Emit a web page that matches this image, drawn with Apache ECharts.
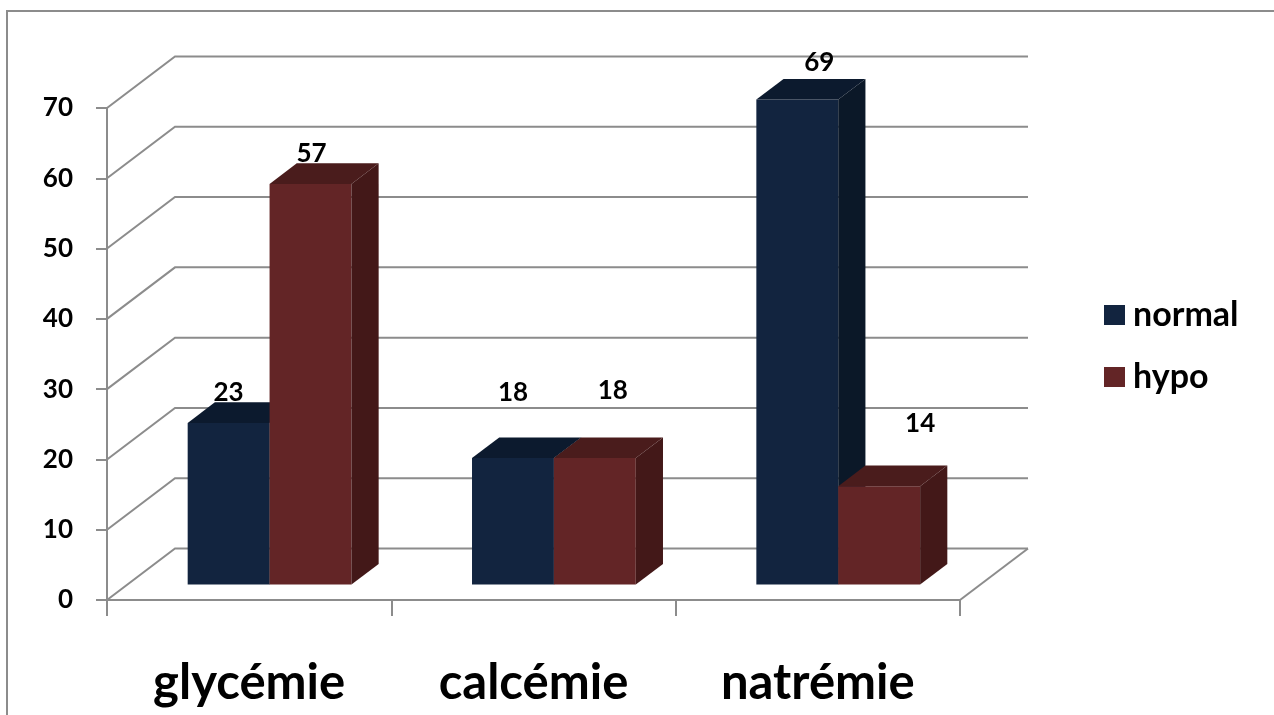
<!DOCTYPE html>
<html>
<head>
<meta charset="utf-8">
<script src="https://cdn.jsdelivr.net/npm/echarts@6/dist/echarts.min.js"></script>
<style>
  html, body { margin: 0; padding: 0; background: #fff; }
  #chart { width: 1274px; height: 715px; }
</style>
</head>
<body>
<div id="chart"></div>
<script>
// données
const categories = ['glycémie', 'calcémie', 'natrémie'];
const normal = [23, 18, 69];
const hypo = [57, 18, 14];
const yTicks = [0, 10, 20, 30, 40, 50, 60, 70];

// décalage des étiquettes (comme Excel les place)
const labelNudgeNormal = [[0, -30], [0, -65], [22, -37]];
const labelNudgeHypo = [[1, -30], [18, -67], [41, -63]];

const DEPTH = [68, -51.5];   // profondeur du plancher en pixels
const BAR_W = 0.288;         // largeur d'une barre (en catégories)
const GRID_COLOR = '#8c8c8c';
const FONT = 'Lato';

function addDepth(p, f) {
    return [p[0] + DEPTH[0] * f, p[1] + DEPTH[1] * f];
}

// murs du fond + lignes de grille en perspective
function renderWalls(params, api) {
    const v = api.value(0);
    const fl = api.coord([0, v]);
    const fr = api.coord([3, v]);
    const bl = addDepth(fl, 1);
    const br = addDepth(fr, 1);
    const children = [{
        type: 'polyline',
        shape: { points: [fl, bl, br] },
        style: { stroke: GRID_COLOR, lineWidth: 2, fill: null }
    }];
    if (v === 0) {
        children.push({
            type: 'line',
            shape: { x1: fr[0], y1: fr[1], x2: br[0], y2: br[1] },
            style: { stroke: GRID_COLOR, lineWidth: 2 }
        });
    }
    return { type: 'group', children: children };
}

function makeBarRenderer(side, colors, nudges) {
    return function (params, api) {
        const i = api.value(0);
        const v = api.value(1);
        const x0 = side === 0 ? i + 0.5 - BAR_W : i + 0.5;
        const x1 = x0 + BAR_W;
        const flb = addDepth(api.coord([x0, 0]), 0.3);
        const frb = addDepth(api.coord([x1, 0]), 0.3);
        const flt = addDepth(api.coord([x0, v]), 0.3);
        const frt = addDepth(api.coord([x1, v]), 0.3);
        const d = 0.4;
        const nd = nudges[params.dataIndex];
        return {
            type: 'group',
            children: [
                { type: 'polygon', shape: { points: [flb, frb, frt, flt] }, style: { fill: colors[0] } },
                { type: 'polygon', shape: { points: [flt, frt, addDepth(frt, d), addDepth(flt, d)] }, style: { fill: colors[1] } },
                { type: 'polygon', shape: { points: [frb, addDepth(frb, d), addDepth(frt, d), frt] }, style: { fill: colors[2] } },
                {
                    type: 'text',
                    x: (flt[0] + frt[0]) / 2 + nd[0],
                    y: flt[1] + nd[1],
                    style: {
                        text: String(v), fill: '#000', font: 'bold 26px ' + FONT,
                        textAlign: 'center', textVerticalAlign: 'middle'
                    }
                }
            ]
        };
    };
}

const chart = echarts.init(document.getElementById('chart'));

chart.setOption({
    animation: false,
    backgroundColor: '#fff',
    graphic: [{
        type: 'rect',
        z: -10,
        shape: { x: 7, y: 11, width: 1400, height: 900 },
        style: { fill: null, stroke: GRID_COLOR, lineWidth: 2 }
    }],
    legend: {
        orient: 'vertical',
        left: 1099,
        top: 293,
        itemWidth: 21,
        itemHeight: 20,
        itemGap: 28,
        icon: 'rect',
        data: ['normal', 'hypo'],
        textStyle: { fontFamily: FONT, fontWeight: 'bold', fontSize: 34, color: '#000', padding: [0, 0, 0, 3] }
    },
    grid: { left: 107, right: 314, top: 108, bottom: 115 },
    xAxis: [{
        type: 'category',
        data: categories,
        boundaryGap: true,
        axisLine: { lineStyle: { color: GRID_COLOR, width: 2 } },
        axisTick: { show: true, length: 16, lineStyle: { color: GRID_COLOR, width: 2 } },
        axisLabel: { fontFamily: FONT, fontWeight: 'bold', fontSize: 49, color: '#000', margin: 59 }
    }, {
        type: 'value', min: 0, max: 3, show: false
    }],
    yAxis: {
        type: 'value',
        min: 0,
        max: 70,
        interval: 10,
        axisLine: { show: true, lineStyle: { color: GRID_COLOR, width: 2 } },
        axisTick: { show: true, length: 11, lineStyle: { color: GRID_COLOR, width: 2 } },
        axisLabel: { fontFamily: FONT, fontWeight: 'bold', fontSize: 26, color: '#000', margin: 34 },
        splitLine: { show: false }
    },
    series: [{
        type: 'custom',
        name: 'walls',
        xAxisIndex: 1,
        z: 1,
        silent: true,
        renderItem: renderWalls,
        data: yTicks.map(v => [v])
    }, {
        type: 'custom',
        name: 'normal',
        xAxisIndex: 1,
        z: 2,
        itemStyle: { color: '#12243f' },
        renderItem: makeBarRenderer(0, ['#12243f', '#0c1a2e', '#0b1828'], labelNudgeNormal),
        data: normal.map((v, i) => [i, v])
    }, {
        type: 'custom',
        name: 'hypo',
        xAxisIndex: 1,
        z: 3,
        itemStyle: { color: '#632526' },
        renderItem: makeBarRenderer(1, ['#632526', '#4a1c1c', '#431818'], labelNudgeHypo),
        data: hypo.map((v, i) => [i, v])
    }]
});
</script>
</body>
</html>
